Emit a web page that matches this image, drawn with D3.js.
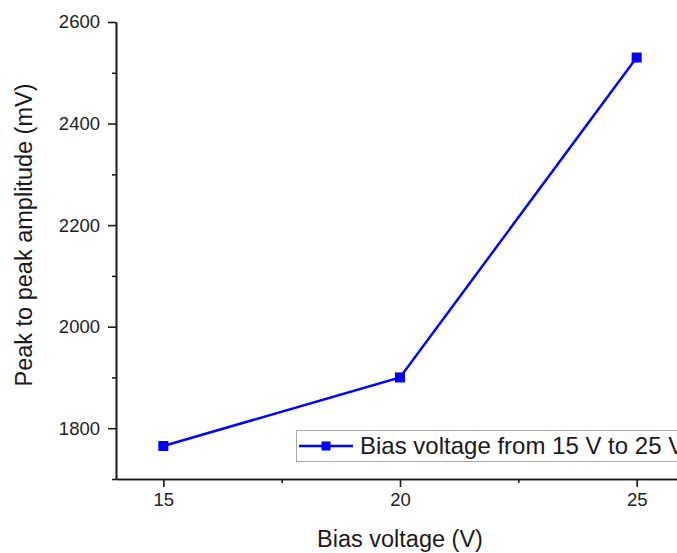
<!DOCTYPE html>
<html>
<head>
<meta charset="utf-8">
<script src="https://cdn.jsdelivr.net/npm/d3@7"></script>
<style>
  html, body { margin: 0; padding: 0; background: #fff; }
  svg { display: block; font-family: "Liberation Sans", Arial, sans-serif; }
</style>
</head>
<body>
<svg id="chart" width="677" height="553"></svg>
<script>
// Peak-to-peak amplitude measured at three bias voltages
const biasVoltages = [15, 20, 25];
const amplitudes = [1765, 1900, 2530];
const xTicks = [15, 20, 25];
const xMinorTicks = [17.5, 22.5];
const yTicks = [1800, 2000, 2200, 2400, 2600];
const yMinorTicks = [1700, 1900, 2100, 2300, 2500];
const seriesName = "Bias voltage from 15 V to 25 V";

const svg = d3.select("#chart");
const plot = { left: 116, right: 684, top: 22, bottom: 479 };

const x = d3.scaleLinear().domain([14, 26]).range([plot.left, plot.right]);
const y = d3.scaleLinear().domain([1700, 2600]).range([plot.bottom, plot.top]);

const blue = "#0000ff";
const axisColor = "#1a1a1a";
const fmt = d3.format("d");

// axes
const xAxis = svg.append("g").attr("transform", `translate(0,${plot.bottom})`)
  .call(d3.axisBottom(x).tickValues(xTicks).tickFormat(fmt).tickSize(8).tickPadding(6).tickSizeOuter(0));
const xMinor = svg.append("g").attr("transform", `translate(0,${plot.bottom})`)
  .call(d3.axisBottom(x).tickValues(xMinorTicks).tickSize(4).tickFormat("").tickSizeOuter(0));
const yAxis = svg.append("g").attr("transform", `translate(${plot.left},0)`)
  .call(d3.axisLeft(y).tickValues(yTicks).tickFormat(fmt).tickSize(8).tickPadding(8).tickSizeOuter(0));
const yMinor = svg.append("g").attr("transform", `translate(${plot.left},0)`)
  .call(d3.axisLeft(y).tickValues(yMinorTicks).tickSize(4).tickFormat("").tickSizeOuter(0));

[xAxis, xMinor, yAxis, yMinor].forEach(g => {
  g.selectAll("path.domain").attr("stroke", axisColor).attr("stroke-width", 1.6);
  g.selectAll(".tick line").attr("stroke", axisColor).attr("stroke-width", 1.6);
  g.selectAll(".tick text").attr("fill", "#222").attr("font-size", 18.5)
    .attr("font-family", "Liberation Sans, Arial, sans-serif");
});

// axis titles
svg.append("text")
  .attr("x", x(20)).attr("y", 547)
  .attr("text-anchor", "middle")
  .attr("font-size", 23.5).attr("fill", "#1a1a1a")
  .text("Bias voltage (V)");

svg.append("text")
  .attr("transform", "translate(32,235) rotate(-90)")
  .attr("text-anchor", "middle")
  .attr("font-size", 23.5).attr("fill", "#1a1a1a")
  .text("Peak to peak amplitude (mV)");

// data line and markers
const pts = biasVoltages.map((v, i) => [v, amplitudes[i]]);
svg.append("path")
  .datum(pts)
  .attr("fill", "none")
  .attr("stroke", blue)
  .attr("stroke-width", 2.5)
  .attr("d", d3.line().x(d => x(d[0])).y(d => y(d[1])));

const ms = 10;
svg.selectAll("rect.marker").data(pts).join("rect")
  .attr("class", "marker")
  .attr("x", d => x(d[0]) - ms / 2)
  .attr("y", d => y(d[1]) - ms / 2)
  .attr("width", ms).attr("height", ms)
  .attr("fill", blue);

// legend
const lg = svg.append("g");
lg.append("rect")
  .attr("x", 296.5).attr("y", 430.5).attr("width", 400).attr("height", 31)
  .attr("fill", "#fff").attr("stroke", "#a6a6a6").attr("stroke-width", 1);
lg.append("line")
  .attr("x1", 299).attr("x2", 353).attr("y1", 446).attr("y2", 446)
  .attr("stroke", blue).attr("stroke-width", 2.5);
lg.append("rect")
  .attr("x", 326 - 4.5).attr("y", 446 - 4.5).attr("width", 9).attr("height", 9)
  .attr("fill", blue);
lg.append("text")
  .attr("x", 360).attr("y", 454)
  .attr("font-size", 24).attr("fill", "#1a1a1a")
  .text(seriesName);
</script>
</body>
</html>
